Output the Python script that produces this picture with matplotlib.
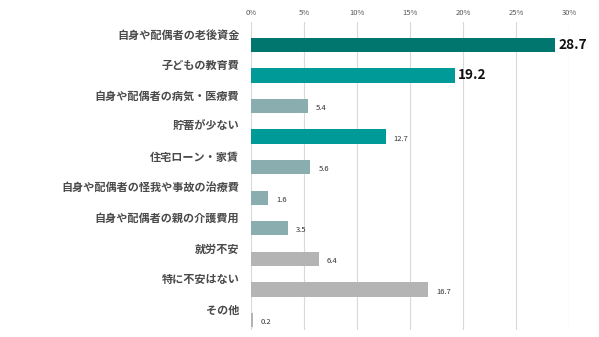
import matplotlib
matplotlib.use("Agg")
import matplotlib.pyplot as plt

plt.rcParams['font.family'] = ['Noto Sans CJK JP', 'DejaVu Sans']

categories = [
    "自身や配偶者の老後資金",
    "子どもの教育費",
    "自身や配偶者の病気・医療費",
    "貯蓄が少ない",
    "住宅ローン・家賃",
    "自身や配偶者の怪我や事故の治療費",
    "自身や配偶者の親の介護費用",
    "就労不安",
    "特に不安はない",
    "その他",
]
values = [28.7, 19.2, 5.4, 12.7, 5.6, 1.6, 3.5, 6.4, 16.7, 0.2]
bar_colors = ["#00766f", "#009a99", "#8aaeb0", "#009a99", "#8aaeb0",
              "#8aaeb0", "#8aaeb0", "#b4b4b4", "#b4b4b4", "#b4b4b4"]
highlight = [True, True, False, False, False, False, False, False, False, False]
xticks = [0, 5, 10, 15, 20, 25, 30]
xtick_labels = ["0%", "5%", "10%", "15%", "20%", "25%", "30%"]

fig = plt.figure(figsize=(5.99, 3.37), dpi=100)
ax = fig.add_axes([251 / 599, 1 - 330 / 337, (569 - 251) / 599, (330 - 22) / 337])

pos = list(range(len(categories)))
ax.barh(pos, values, height=0.47, color=bar_colors, zorder=3)

ax.set_xlim(0, 30)
ax.set_ylim(9.33, -0.75)
ax.set_xticks(xticks)
ax.set_xticklabels(xtick_labels)
ax.xaxis.tick_top()
ax.tick_params(axis='x', length=0, labelsize=5.5, labelcolor="#595959", pad=3.5)
ax.set_yticks([])
ax.grid(axis='x', color="#d9d9d9", linewidth=0.8, zorder=0)
for s in ax.spines.values():
    s.set_visible(False)

# category names sit slightly above their bars
for p, name in zip(pos, categories):
    ax.text(-1.1, p - 0.32, name, ha='right', va='center', fontsize=8,
            color="#4a4a4a", fontweight='bold')

# value annotations
for p, v, hl in zip(pos, values, highlight):
    if hl:
        ax.text(v + 0.3, p, f"{v:.1f}", ha='left', va='center', fontsize=9.8,
                fontweight='bold', color="#111111")
    else:
        ax.text(v + 0.75, p + 0.07, f"{v:.1f}", ha='left', va='center',
                fontsize=5.5, color="#333333")

fig.savefig("out.png", dpi=100, facecolor="white")
